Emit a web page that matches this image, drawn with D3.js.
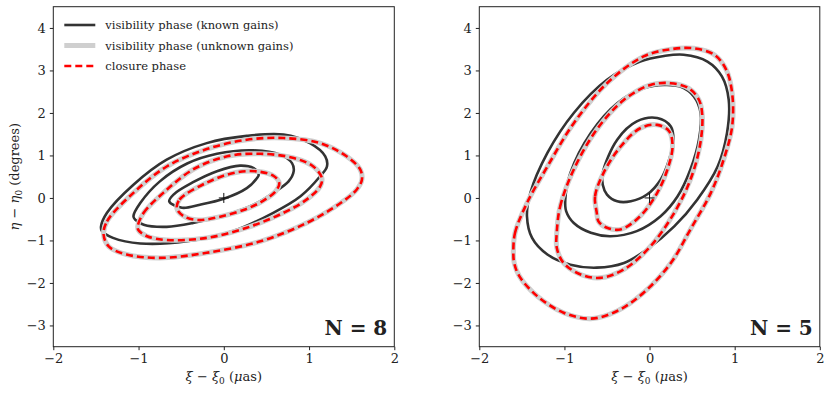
<!DOCTYPE html>
<html lang="en">
<head>
    <meta charset="UTF-8">
    <title>Phase contours</title>
    <style>
        body { margin: 0; background: #fff; }
        svg text { font-family: "DejaVu Serif", serif; fill: #222; }
    </style>
    <script src="https://cdn.jsdelivr.net/npm/d3@7"></script>
</head>
<body>
    <script>
        // Contour points, [xi, eta] per point, three levels per panel
        const leftKnown = [
            [[-0.64,-0.08],[-0.59,0.08],[-0.36,0.37],[-0.08,0.63],[0.19,0.76],[0.35,0.70],[0.41,0.55],[0.39,0.47],[0.27,0.23],[0.0,-0.02],[-0.28,-0.16],[-0.49,-0.23]],
            [[-1.06,-0.43],[-0.98,-0.12],[-0.75,0.39],[-0.43,0.81],[-0.08,1.04],[0.35,1.12],[0.66,1.02],[0.80,0.82],[0.82,0.63],[0.76,0.39],[0.58,0.12],[0.35,-0.16],[0.04,-0.39],[-0.36,-0.59],[-0.67,-0.68],[-0.94,-0.63],[-1.04,-0.51]],
            [[-1.44,-0.67],[-1.37,-0.35],[-1.06,0.31],[-0.67,0.90],[-0.20,1.29],[0.27,1.46],[0.70,1.49],[1.01,1.29],[1.19,0.98],[1.21,0.74],[1.13,0.51],[0.90,0.04],[0.58,-0.35],[0.11,-0.78],[-0.43,-1.02],[-0.98,-1.07],[-1.30,-0.94],[-1.43,-0.78]]
        ];
        const leftUnknown = [
            [[-0.55,-0.25],[-0.52,-0.04],[-0.21,0.35],[0.14,0.60],[0.41,0.62],[0.59,0.51],[0.65,0.35],[0.61,0.16],[0.45,-0.08],[0.25,-0.27],[-0.02,-0.43],[-0.30,-0.52],[-0.47,-0.43]],
            [[-1.01,-0.67],[-0.94,-0.35],[-0.71,0.12],[-0.36,0.67],[0.04,0.98],[0.43,1.04],[0.82,0.94],[1.05,0.74],[1.15,0.47],[1.13,0.27],[0.97,-0.04],[0.70,-0.35],[0.27,-0.70],[-0.20,-0.94],[-0.67,-0.99],[-0.90,-0.90],[-1.0,-0.76]],
            [[-1.41,-0.86],[-1.37,-0.55],[-1.06,0.12],[-0.67,0.74],[-0.20,1.15],[0.27,1.37],[0.70,1.41],[1.13,1.29],[1.44,0.98],[1.60,0.67],[1.62,0.43],[1.56,0.20],[1.37,-0.12],[0.97,-0.59],[0.43,-1.02],[-0.20,-1.29],[-0.75,-1.41],[-1.14,-1.33],[-1.35,-1.14]]
        ];
        const leftClosure = leftUnknown; // the two overlap in the picture

        const rightKnown = [
            [[-0.55,0.59],[-0.38,1.37],[-0.15,1.80],[0.09,1.88],[0.25,1.68],[0.28,1.37],[0.23,0.90],[0.13,0.43],[-0.03,0.08],[-0.22,-0.08],[-0.38,-0.08],[-0.50,0.08],[-0.55,0.31]],
            [[-0.99,-0.04],[-0.93,0.59],[-0.69,1.53],[-0.38,2.23],[-0.07,2.58],[0.17,2.66],[0.36,2.62],[0.52,2.39],[0.60,2.00],[0.58,1.37],[0.48,0.67],[0.33,0.04],[0.13,-0.43],[-0.15,-0.78],[-0.46,-0.90],[-0.69,-0.82],[-0.89,-0.59],[-0.98,-0.31]],
            [[-1.44,-0.43],[-1.40,0.12],[-1.20,1.06],[-0.89,2.00],[-0.50,2.78],[-0.11,3.21],[0.17,3.34],[0.40,3.37],[0.68,3.21],[0.85,2.86],[0.93,2.31],[0.91,1.53],[0.80,0.74],[0.56,-0.04],[0.29,-0.67],[-0.03,-1.21],[-0.30,-1.53],[-0.62,-1.64],[-0.93,-1.57],[-1.20,-1.33],[-1.38,-0.94]]
        ];
        const rightUnknown = [
            [[-0.62,-0.35],[-0.64,0.04],[-0.54,0.59],[-0.34,1.21],[-0.11,1.64],[0.09,1.72],[0.23,1.57],[0.27,1.21],[0.21,0.67],[0.09,0.12],[-0.11,-0.43],[-0.34,-0.74],[-0.50,-0.70],[-0.60,-0.55]],
            [[-1.09,-0.82],[-1.05,-0.20],[-0.89,0.67],[-0.62,1.61],[-0.30,2.31],[0.01,2.66],[0.25,2.70],[0.46,2.58],[0.58,2.31],[0.62,1.92],[0.59,1.21],[0.48,0.43],[0.29,-0.35],[0.01,-1.14],[-0.30,-1.68],[-0.58,-1.88],[-0.81,-1.80],[-1.01,-1.53],[-1.09,-1.17]],
            [[-1.60,-1.29],[-1.58,-0.82],[-1.44,-0.12],[-1.20,0.74],[-0.89,1.76],[-0.50,2.70],[-0.07,3.33],[0.25,3.50],[0.52,3.52],[0.76,3.37],[0.90,3.02],[0.97,2.47],[0.97,1.68],[0.87,0.90],[0.72,0.12],[0.48,-0.74],[0.25,-1.53],[-0.07,-2.23],[-0.38,-2.66],[-0.69,-2.84],[-1.01,-2.70],[-1.32,-2.31],[-1.53,-1.84],[-1.59,-1.53]]
        ];
        const rightClosure = rightUnknown;

        const xTicks = [-2, -1, 0, 1, 2];
        const yTicks = [-3, -2, -1, 0, 1, 2, 3, 4];
        const legendLabels = ["visibility phase (known gains)", "visibility phase (unknown gains)", "closure phase"];
        const panelLabels = ["N = 8", "N = 5"];

        // Canvas
        const width = 831, height = 394;
        const svg = d3.select("body").append("svg").attr("width", width).attr("height", height);

        const plotTop = 6.7, plotBottom = 346.7;
        const panels = [
            { left: 53.3, right: 394.3, known: leftKnown, unknown: leftUnknown, closure: leftClosure, label: panelLabels[0], legend: true, ylabel: true },
            { left: 479.3, right: 819.8, known: rightKnown, unknown: rightUnknown, closure: rightClosure, label: panelLabels[1], legend: false, ylabel: false }
        ];

        const styles = {
            known: { stroke: "#333", width: 2.6, dash: null },
            unknown: { stroke: "#cfcfcf", width: 5, dash: null },
            closure: { stroke: "#ff0000", width: 2.6, dash: "7,4" }
        };

        const minusFmt = d => d < 0 ? "\u2212" + Math.abs(d) : d;

        panels.forEach(p => {
            const x = d3.scaleLinear().domain([-2, 2]).range([p.left, p.right]);
            const y = d3.scaleLinear().domain([-3.5, 4.5]).range([plotBottom, plotTop]);
            const g = svg.append("g");

            const line = d3.line()
                .x(d => x(d[0]))
                .y(d => y(d[1]))
                .curve(d3.curveCatmullRomClosed.alpha(0.5));

            ["known", "unknown", "closure"].forEach(k => {
                g.selectAll("path." + k)
                    .data(p[k])
                    .join("path")
                    .attr("class", k)
                    .attr("d", line)
                    .attr("fill", "none")
                    .attr("stroke", styles[k].stroke)
                    .attr("stroke-width", styles[k].width)
                    .attr("stroke-dasharray", styles[k].dash);
            });

            // plus marker at origin
            g.append("path")
                .attr("d", `M${x(0) - 5},${y(0)}H${x(0) + 5}M${x(0)},${y(0) - 5}V${y(0) + 5}`)
                .attr("stroke", "#111")
                .attr("stroke-width", 1);

            // axes
            const xAxis = g.append("g")
                .attr("transform", `translate(0,${plotBottom})`)
                .call(d3.axisBottom(x).tickValues(xTicks).tickSize(3.5).tickPadding(4).tickFormat(minusFmt));
            const yAxis = g.append("g")
                .attr("transform", `translate(${p.left},0)`)
                .call(d3.axisLeft(y).tickValues(yTicks).tickSize(3.5).tickPadding(4).tickFormat(minusFmt));
            [xAxis, yAxis].forEach(a => {
                a.attr("font-family", null);
                a.select(".domain").remove();
                a.selectAll("line").attr("stroke", "#222");
                a.selectAll("text").attr("font-size", 13).attr("fill", "#222");
            });

            g.append("rect")
                .attr("x", p.left).attr("y", plotTop)
                .attr("width", p.right - p.left).attr("height", plotBottom - plotTop)
                .attr("fill", "none").attr("stroke", "#222").attr("stroke-width", 1);

            // x label
            const xl = g.append("text")
                .attr("x", (p.left + p.right) / 2).attr("y", 381)
                .attr("text-anchor", "middle").attr("font-size", 13);
            xl.append("tspan").attr("font-style", "italic").text("\u03be");
            xl.append("tspan").text(" \u2212 ");
            xl.append("tspan").attr("font-style", "italic").text("\u03be");
            xl.append("tspan").attr("font-size", 9).attr("dy", 3).text("0");
            xl.append("tspan").attr("dy", -3).text(" (");
            xl.append("tspan").attr("font-style", "italic").text("\u03bc");
            xl.append("tspan").text("as)");

            if (p.ylabel) {
                const yl = g.append("text")
                    .attr("transform", `translate(19,${(plotTop + plotBottom) / 2}) rotate(-90)`)
                    .attr("text-anchor", "middle").attr("font-size", 13);
                yl.append("tspan").attr("font-style", "italic").text("\u03b7");
                yl.append("tspan").text(" \u2212 ");
                yl.append("tspan").attr("font-style", "italic").text("\u03b7");
                yl.append("tspan").attr("font-size", 9).attr("dy", 3).text("0");
                yl.append("tspan").attr("dy", -3).text(" (degrees)");
            }

            // panel label
            g.append("text")
                .attr("x", p.right - 7).attr("y", 335)
                .attr("text-anchor", "end")
                .attr("font-size", 20).attr("font-weight", "bold")
                .text(p.label);

            if (p.legend) {
                const keys = ["known", "unknown", "closure"];
                keys.forEach((k, i) => {
                    const ly = 25 + i * 20.5;
                    g.append("line")
                        .attr("x1", p.left + 11).attr("x2", p.left + 42)
                        .attr("y1", ly).attr("y2", ly)
                        .attr("stroke", styles[k].stroke)
                        .attr("stroke-width", styles[k].width)
                        .attr("stroke-dasharray", styles[k].dash);
                    g.append("text")
                        .attr("x", p.left + 52).attr("y", ly + 4)
                        .attr("font-size", 11.5)
                        .text(legendLabels[i]);
                });
            }
        });
    </script>
</body>
</html>
